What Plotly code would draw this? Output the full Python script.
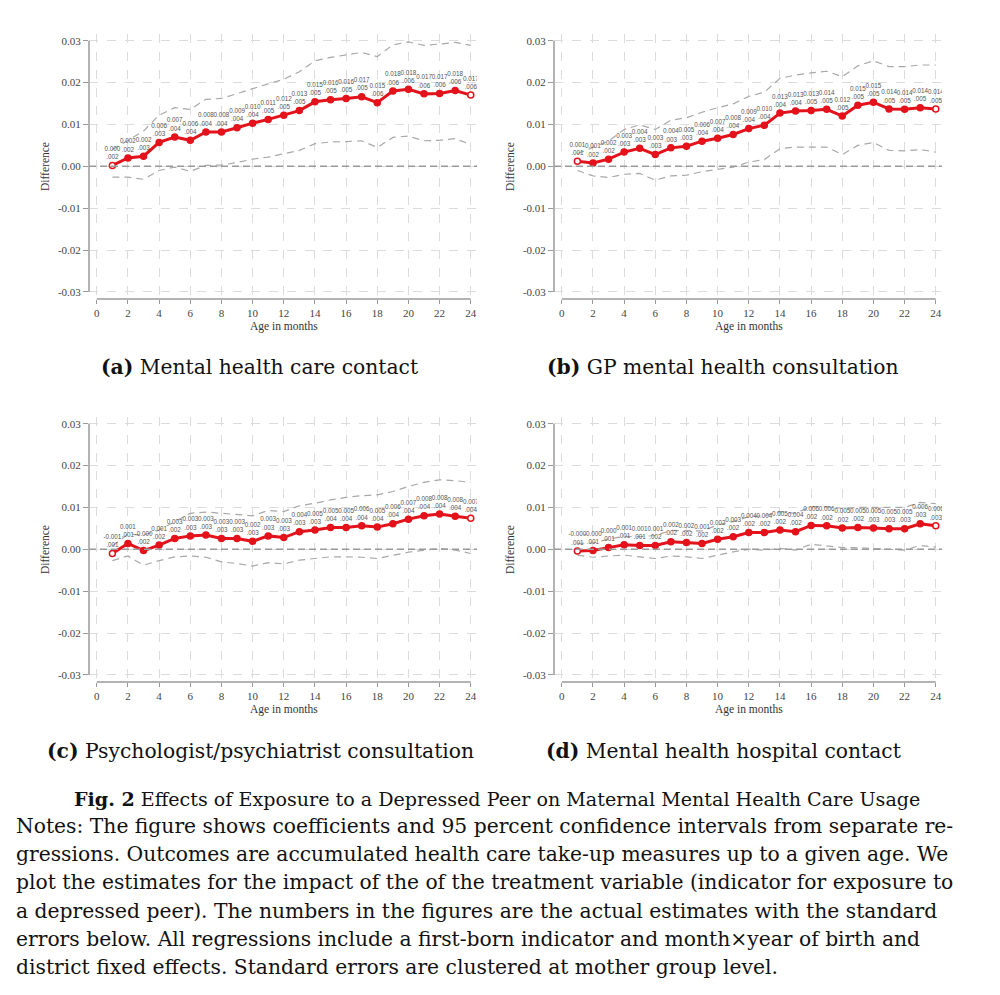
import plotly.graph_objects as go

months = list(range(1, 25))

# (a) Mental health care contact
est_a = [0.0002, 0.0020, 0.0024, 0.0057, 0.0070, 0.0062, 0.0082, 0.0082, 0.0092, 0.0103, 0.0112, 0.0122,
         0.0133, 0.0154, 0.0159, 0.0162, 0.0166, 0.0152, 0.0180, 0.0184, 0.0173, 0.0174, 0.0181, 0.0170]
se_a = [0.002, 0.002, 0.003, 0.003, 0.004, 0.004, 0.004, 0.004, 0.004, 0.004, 0.005, 0.005,
        0.005, 0.005, 0.005, 0.005, 0.005, 0.006, 0.006, 0.006, 0.006, 0.006, 0.006, 0.006]
hi_a = [0.0040, 0.0062, 0.0084, 0.0122, 0.0140, 0.0136, 0.0160, 0.0162, 0.0174, 0.0186, 0.0197, 0.0208,
        0.0226, 0.0252, 0.0260, 0.0266, 0.0272, 0.0262, 0.0290, 0.0297, 0.0289, 0.0292, 0.0296, 0.0289]
lo_a = [-0.0026, -0.0026, -0.0031, -0.0010, -0.0002, -0.0012, 0.0002, 0.0003, 0.0009, 0.0017, 0.0022, 0.0030,
        0.0038, 0.0054, 0.0058, 0.0059, 0.0061, 0.0045, 0.0069, 0.0072, 0.0061, 0.0062, 0.0066, 0.0052]

# (b) GP mental health consultation
est_b = [0.0012, 0.0008, 0.0017, 0.0034, 0.0043, 0.0028, 0.0044, 0.0048, 0.0060, 0.0067, 0.0076, 0.0090,
         0.0098, 0.0127, 0.0132, 0.0133, 0.0136, 0.0120, 0.0146, 0.0153, 0.0137, 0.0136, 0.0140, 0.0137]
se_b = [0.001, 0.002, 0.002, 0.003, 0.003, 0.003, 0.003, 0.003, 0.004, 0.004, 0.004, 0.004,
        0.004, 0.004, 0.004, 0.005, 0.005, 0.005, 0.005, 0.005, 0.005, 0.005, 0.005, 0.005]
hi_b = [0.0030, 0.0045, 0.0060, 0.0088, 0.0099, 0.0088, 0.0110, 0.0116, 0.0129, 0.0140, 0.0149, 0.0167,
        0.0177, 0.0210, 0.0218, 0.0223, 0.0227, 0.0214, 0.0240, 0.0252, 0.0238, 0.0238, 0.0242, 0.0242]
lo_b = [-0.0010, -0.0023, -0.0027, -0.0019, -0.0017, -0.0033, -0.0023, -0.0021, -0.0013, -0.0008, -0.0002, 0.0010,
        0.0016, 0.0042, 0.0046, 0.0046, 0.0046, 0.0028, 0.0050, 0.0057, 0.0038, 0.0037, 0.0040, 0.0034]

# (c) Psychologist/psychiatrist consultation
est_c = [-0.0010, 0.0014, -0.0003, 0.0010, 0.0026, 0.0032, 0.0034, 0.0026, 0.0026, 0.0019, 0.0032, 0.0028,
         0.0042, 0.0046, 0.0052, 0.0052, 0.0056, 0.0053, 0.0061, 0.0072, 0.0080, 0.0084, 0.0079, 0.0074]
se_c = [0.001, 0.001, 0.002, 0.002, 0.002, 0.003, 0.003, 0.003, 0.003, 0.003, 0.003, 0.003,
        0.003, 0.003, 0.004, 0.004, 0.004, 0.004, 0.004, 0.004, 0.004, 0.004, 0.004, 0.004]
hi_c = [0.0008, 0.0036, 0.0034, 0.0046, 0.0066, 0.0086, 0.0089, 0.0086, 0.0084, 0.0080, 0.0093, 0.0090,
        0.0104, 0.0110, 0.0118, 0.0124, 0.0128, 0.0130, 0.0138, 0.0150, 0.0160, 0.0166, 0.0164, 0.0160]
lo_c = [-0.0027, -0.0016, -0.0038, -0.0027, -0.0018, -0.0016, -0.0019, -0.0030, -0.0034, -0.0040, -0.0032, -0.0035,
        -0.0026, -0.0022, -0.0018, -0.0018, -0.0019, -0.0022, -0.0014, -0.0007, -0.0002, 0.0002, -0.0002, -0.0010]

# (d) Mental health hospital contact
est_d = [-0.0004, -0.0003, 0.0004, 0.0011, 0.0009, 0.0009, 0.0018, 0.0016, 0.0014, 0.0024, 0.0030, 0.0040,
         0.0040, 0.0046, 0.0042, 0.0057, 0.0056, 0.0051, 0.0052, 0.0051, 0.0049, 0.0049, 0.0061, 0.0056]
se_d = [0.001, 0.001, 0.001, 0.001, 0.001, 0.002, 0.002, 0.002, 0.002, 0.002, 0.002, 0.002,
        0.002, 0.002, 0.002, 0.002, 0.002, 0.002, 0.002, 0.003, 0.003, 0.003, 0.003, 0.003]
hi_d = [0.0014, 0.0015, 0.0024, 0.0031, 0.0030, 0.0033, 0.0045, 0.0044, 0.0044, 0.0058, 0.0066, 0.0078,
        0.0080, 0.0090, 0.0086, 0.0102, 0.0102, 0.0098, 0.0100, 0.0100, 0.0100, 0.0100, 0.0112, 0.0109]
lo_d = [-0.0014, -0.0019, -0.0016, -0.0014, -0.0018, -0.0022, -0.0016, -0.0018, -0.0022, -0.0014, -0.0006, 0.0000,
        -0.0002, 0.0002, -0.0002, 0.0012, 0.0008, 0.0004, 0.0004, 0.0002, 0.0000, -0.0002, 0.0009, 0.0005]

captions = ["<b>(a)</b> Mental health care contact",
            "<b>(b)</b> GP mental health consultation",
            "<b>(c)</b> Psychologist/psychiatrist consultation",
            "<b>(d)</b> Mental health hospital contact"]

y_ticks = [-0.03, -0.02, -0.01, 0.0, 0.01, 0.02, 0.03]
y_tick_text = ["-0.03", "-0.02", "-0.01", "0.00", "0.01", "0.02", "0.03"]
x_ticks = list(range(0, 25, 2))

fig_title = "<b>Fig. 2</b> Effects of Exposure to a Depressed Peer on Maternal Mental Health Care Usage"
notes = [
    "Notes: The figure shows coefficients and 95 percent confidence intervals from separate re-",
    "gressions. Outcomes are accumulated health care take-up measures up to a given age. We",
    "plot the estimates for the impact of the of the treatment variable (indicator for exposure to",
    "a depressed peer). The numbers in the figures are the actual estimates with the standard",
    "errors below. All regressions include a first-born indicator and month\u00d7year of birth and",
    "district fixed effects. Standard errors are clustered at mother group level.",
]

panels = [(est_a, se_a, hi_a, lo_a), (est_b, se_b, hi_b, lo_b),
          (est_c, se_c, hi_c, lo_c), (est_d, se_d, hi_d, lo_d)]

W, H = 1000, 995
OFF = 8  # page body margin
RED = "#e3121b"
CI = "#a8a8a8"
AX = "#9a9a9a"
GRID = "#dcdcdc"
SERIF = "Liberation Serif"
CAPFONT = "DejaVu Serif"

def px(v):
    return (v - OFF) / W

def py(v):
    return 1 - (v - OFF) / H

# pixel layout of each panel: (left, right, top, bottom)
boxes = [(89, 477, 34, 299), (554, 942, 34, 299), (89, 477, 417, 682), (554, 942, 417, 682)]
cap_pos = [(259, 367), (723, 367), (260, 751), (723, 751)]

fig = go.Figure()
layout = {}
shapes = []
annotations = []

def fmt_est(v):
    return f"{v:.3f}"

def fmt_se(v):
    return f"{v:.3f}".lstrip("0")

for i, ((est, se, hi, lo), (l, r, t, b)) in enumerate(zip(panels, boxes)):
    n = i + 1
    xa = "x" if n == 1 else f"x{n}"
    ya = "y" if n == 1 else f"y{n}"
    xk = "xaxis" if n == 1 else f"xaxis{n}"
    yk = "yaxis" if n == 1 else f"yaxis{n}"
    layout[xk] = dict(domain=[px(l), px(r)], range=[-0.5, 24.4], anchor=ya,
                      tickvals=x_ticks, ticktext=[str(v) for v in x_ticks],
                      showgrid=True, gridcolor=GRID, griddash="dash", gridwidth=1,
                      zeroline=False, showline=False, ticks="outside", ticklen=4,
                      tickcolor=AX, tickwidth=1,
                      tickfont=dict(family=SERIF, size=11, color="#444"))
    layout[yk] = dict(domain=[py(b), py(t)], range=[-0.0317, 0.0316], anchor=xa,
                      tickvals=y_ticks, ticktext=y_tick_text,
                      showgrid=True, gridcolor=GRID, griddash="dash", gridwidth=1,
                      zeroline=False, showline=False, ticks="outside", ticklen=5,
                      tickcolor=AX, tickwidth=1,
                      tickfont=dict(family=SERIF, size=11, color="#444"))
    # CI lines
    for ci in (hi, lo):
        fig.add_trace(go.Scatter(x=months, y=ci, mode="lines", xaxis=xa, yaxis=ya,
                                 line=dict(color=CI, width=1.2, dash="7px,5px"),
                                 showlegend=False, hoverinfo="skip"))
    # estimates
    labels = [f"{fmt_est(e)}<br>{fmt_se(s)}" for e, s in zip(est, se)]
    fills = ["white"] + [RED] * (len(est) - 2) + ["white"]
    fig.add_trace(go.Scatter(x=months, y=est, mode="lines+markers+text", xaxis=xa, yaxis=ya,
                             line=dict(color=RED, width=3),
                             marker=dict(size=6, color=fills, line=dict(color=RED, width=1.5)),
                             text=labels, textposition="top center",
                             textfont=dict(family="Liberation Sans Narrow, Liberation Sans, Arial",
                                           size=6.3, color="#555"),
                             showlegend=False))
    # zero line
    shapes.append(dict(type="line", xref=f"{xa} domain", yref=ya, x0=0, x1=1, y0=0, y1=0,
                       line=dict(color="#9a9a9a", width=1.6, dash="7px,4px"), layer="above"))
    # axis lines (Stata style, offset)
    shapes.append(dict(type="line", xref=xa, yref=f"{ya} domain", x0=0, x1=24, y0=0, y1=0,
                       line=dict(color=AX, width=1.5)))
    shapes.append(dict(type="line", xref=f"{xa} domain", yref=ya, x0=0, x1=0, y0=-0.03, y1=0.03,
                       line=dict(color=AX, width=1.5)))
    # axis titles
    x0p = l + 7.8
    x24p = l + 7.8 + 24 * 15.58
    annotations.append(dict(text="Age in months", x=px((x0p + x24p) / 2), y=py(b + 27),
                            xref="paper", yref="paper", showarrow=False,
                            font=dict(family=SERIF, size=11.5, color="#333"),
                            xanchor="center", yanchor="middle"))
    annotations.append(dict(text="Difference", x=px(l - 44), y=py((t + b) / 2 + 0.5),
                            xref="paper", yref="paper", showarrow=False, textangle=-90,
                            font=dict(family=SERIF, size=11.5, color="#333"),
                            xanchor="center", yanchor="middle"))
    cx, cy = cap_pos[i]
    annotations.append(dict(text=captions[i], x=px(cx), y=py(cy), xref="paper", yref="paper",
                            showarrow=False, font=dict(family=CAPFONT, size=20.3, color="#111"),
                            xanchor="center", yanchor="middle"))

annotations.append(dict(text=fig_title, x=px(497), y=py(799), xref="paper", yref="paper",
                        showarrow=False, font=dict(family=CAPFONT, size=19.1, color="#111"),
                        xanchor="center", yanchor="middle"))
for k, line in enumerate(notes):
    annotations.append(dict(text=line, x=px(14), y=py(826 + k * 28.2), xref="paper", yref="paper",
                            showarrow=False, font=dict(family=CAPFONT, size=20.3, color="#111"),
                            xanchor="left", yanchor="middle"))

fig.update_layout(width=W, height=H, margin=dict(l=0, r=0, t=0, b=0),
                  paper_bgcolor="white", plot_bgcolor="white",
                  shapes=shapes, annotations=annotations, **layout)

fig.write_html("out.html")
